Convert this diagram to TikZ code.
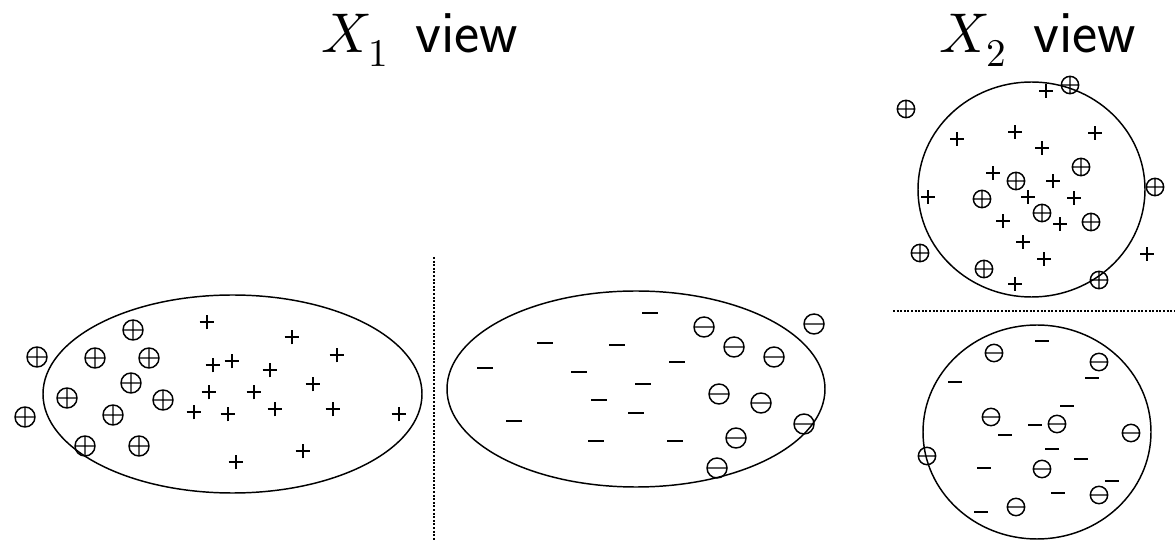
\documentclass[tikz,border=0pt]{standalone}
\usepackage{fontspec}
\usepackage{unicode-math}
\begin{document}
\begin{tikzpicture}[x=0.75pt,y=-0.75pt,
  outline/.style={line width=1.1pt},
  symb/.style={line width=1.1pt},
  sepline/.style={line width=1.0pt, dash pattern=on 1.5pt off 1.2pt},
  title/.style={font=\fontsize{42}{48}\selectfont, inner sep=0pt, anchor=base}]
\useasboundingbox (0,0) rectangle (1175,541);
% titles
\node[title] (t1) at (420,53) {$X_1$\hspace{20pt}{\fontsize{45}{50}\selectfont\sffamily view}};
\node[title] (t2) at (1038,53) {$X_2$\hspace{20pt}{\fontsize{45}{50}\selectfont\sffamily view}};
% separators
\draw[sepline] (434,257) -- (434,541);
\draw[sepline] (893,311) -- (1175,311);
% X1 view ellipses
\draw[outline] (232.5,394) ellipse [x radius=189.5*0.75pt, y radius=99*0.75pt];
\draw[outline] (636,389) ellipse [x radius=189*0.75pt, y radius=98*0.75pt];
% X2 view circles
\draw[outline] (1031.5,189.5) ellipse [x radius=113.5*0.75pt, y radius=107.5*0.75pt];
\draw[outline] (1037,432) ellipse [x radius=114*0.75pt, y radius=107*0.75pt];
% left ellipse: circled plus
\foreach \x/\y in {37/357,25/417,133/330,95/358,149/358,131/383,67/398,163/400,113/415,85/446,139/446}
  \draw[symb] (\x,\y) circle[radius=7.5pt] +(-7.5pt,0) -- +(7.5pt,0) +(0,-7.5pt) -- +(0,7.5pt);
% left ellipse: plus
\foreach \x/\y in {207/322,292/337,337/355,213/365,232/361,270/370,313/384,209/392,254/392,194/412,228/414,275/409,333/409,399/414,303/451,236/462}
  \draw[symb] (\x,\y) +(-5.5pt,0) -- +(5.5pt,0) +(0,-5.5pt) -- +(0,5.5pt);
% right ellipse: minus
\foreach \x/\y in {650/313,545/343,617/345,485/368,579/372,677/362,643/384,599/400,636/413,514/421,596/441,675/441}
  \draw[symb] (\x,\y) +(-6pt,0) -- +(6pt,0);
% right ellipse: circled minus
\foreach \x/\y in {704/327,814/324,734/347,774/357,719/394,761/403,804/424,736/438,717/468}
  \draw[symb] (\x,\y) circle[radius=7.5pt] +(-7.5pt,0) -- +(7.5pt,0);
% top circle: circled plus
\foreach \x/\y in {906/109,1070/85,1081/167,1016/181,982/199,1042/213,1091/222,1155/187,920/253,984/269,1099/280}
  \draw[symb] (\x,\y) circle[radius=6.5pt] +(-6.5pt,0) -- +(6.5pt,0) +(0,-6.5pt) -- +(0,6.5pt);
% top circle: plus
\foreach \x/\y in {1046/91,957/139,1015/132,1042/148,1095/133,993/173,1053/181,928/197,1028/197,1074/198,1003/221,1060/224,1023/242,1044/259,1147/254,1015/284}
  \draw[symb] (\x,\y) +(-5pt,0) -- +(5pt,0) +(0,-5pt) -- +(0,5pt);
% bottom circle: circled minus
\foreach \x/\y in {994/353,1099/362,991/417,1057/424,1131/433,927/456,1042/469,1099/495,1016/507}
  \draw[symb] (\x,\y) circle[radius=6.5pt] +(-6.5pt,0) -- +(6.5pt,0);
% bottom circle: minus
\foreach \x/\y in {1042/341,955/382,1092/378,1067/406,1035/425,1005/435,1052/449,1081/459,984/468,1112/481,1058/493,981/512}
  \draw[symb] (\x,\y) +(-5pt,0) -- +(5pt,0);
\end{tikzpicture}
\end{document}
